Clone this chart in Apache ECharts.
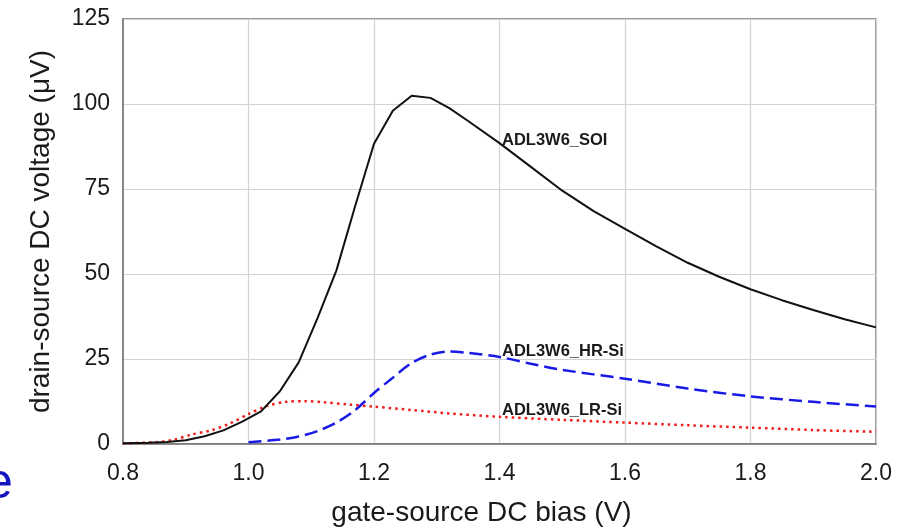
<!DOCTYPE html>
<html>
<head>
<meta charset="utf-8">
<script src="https://cdn.jsdelivr.net/npm/echarts@6/dist/echarts.min.js"></script>
<style>
  html, body { margin: 0; padding: 0; background: #fff; }
  #chart { width: 915px; height: 528px; }
</style>
</head>
<body>
<div id="chart"></div>
<script>
// gate-source bias (V) sample points for each curve
var soiX = [0.8, 0.84, 0.87, 0.9, 0.93, 0.96, 0.99, 1.02, 1.05, 1.08, 1.11, 1.14, 1.17, 1.2, 1.23, 1.26, 1.29, 1.32, 1.35, 1.4, 1.45, 1.5, 1.55, 1.6, 1.65, 1.7, 1.75, 1.8, 1.85, 1.9, 1.95, 2.0];
var soiY = [0.2, 0.4, 0.6, 1.1, 2.3, 4.0, 6.6, 9.6, 15.5, 24.0, 37.0, 51.0, 70.0, 88.3, 98.0, 102.4, 101.8, 98.8, 95.0, 88.5, 81.5, 74.5, 68.5, 63.3, 58.1, 53.3, 49.2, 45.5, 42.3, 39.4, 36.7, 34.3];

var hrX = [1.0, 1.05, 1.08, 1.11, 1.14, 1.17, 1.2, 1.23, 1.26, 1.29, 1.32, 1.35, 1.4, 1.45, 1.5, 1.6, 1.7, 1.8, 1.9, 2.0];
var hrY = [0.5, 1.3, 2.2, 3.8, 6.3, 10.0, 15.0, 19.5, 23.8, 26.3, 27.2, 26.8, 25.6, 23.6, 21.8, 19.2, 16.3, 14.0, 12.4, 11.0];

var lrX = [0.8, 0.85, 0.88, 0.91, 0.94, 0.97, 1.0, 1.03, 1.06, 1.09, 1.12, 1.16, 1.2, 1.26, 1.32, 1.4, 1.5, 1.6, 1.7, 1.8, 1.9, 2.0];
var lrY = [0.2, 0.5, 1.2, 2.8, 4.0, 6.0, 8.8, 11.2, 12.4, 12.6, 12.3, 11.6, 11.0, 10.0, 9.0, 8.0, 7.1, 6.3, 5.5, 4.8, 4.1, 3.6];

var seriesNames = ['ADL3W6_SOI', 'ADL3W6_HR-Si', 'ADL3W6_LR-Si'];
// label anchors in data units [x, y]
var labelAt = [[1.404, 89.4], [1.404, 27.1], [1.404, 10.0]];

var xTicks = { min: 0.8, max: 2.0, step: 0.2 };
var yTicks = { min: 0, max: 125, step: 25 };

var font = '"Liberation Sans", Arial, sans-serif';

function pairs(xs, ys) {
    var out = [];
    for (var i = 0; i < xs.length; i++) out.push([xs[i], ys[i]]);
    return out;
}

function curveLabel(i) {
    return {
        symbol: 'circle',
        symbolSize: 0,
        silent: true,
        label: {
            show: true,
            position: 'right',
            distance: 0,
            formatter: '{b}',
            color: '#1a1a1a',
            fontFamily: font,
            fontWeight: 'bold',
            fontSize: 16.5
        },
        data: [{ name: seriesNames[i], coord: labelAt[i] }]
    };
}

var chart = echarts.init(document.getElementById('chart'));

var option = {
    animation: false,
    backgroundColor: '#fff',
    grid: {
        left: 123, right: 39, top: 19, bottom: 84,
        outerBoundsMode: 'none',
        show: true,
        borderColor: '#777',
        borderWidth: 1.5
    },
    xAxis: {
        type: 'value',
        min: xTicks.min, max: xTicks.max, interval: xTicks.step,
        name: 'gate-source DC bias (V)',
        nameLocation: 'middle',
        nameGap: 55,
        nameTextStyle: { fontFamily: font, fontSize: 28, color: '#1a1a1a', padding: [0, 36, 0, 0] },
        axisLine: { lineStyle: { color: '#777', width: 1.5 } },
        axisTick: { show: false },
        axisLabel: {
            margin: 18,
            fontFamily: font, fontSize: 23, color: '#1a1a1a',
            formatter: function (v) { return v.toFixed(1); }
        },
        splitLine: { lineStyle: { color: '#d2d2d2', width: 1.2 } }
    },
    yAxis: {
        type: 'value',
        min: yTicks.min, max: yTicks.max, interval: yTicks.step,
        name: 'drain-source DC voltage (\u03bcV)',
        nameLocation: 'middle',
        nameGap: 68,
        nameTextStyle: { fontFamily: font, fontSize: 28, color: '#1a1a1a' },
        axisLine: { show: true, lineStyle: { color: '#777', width: 1.5 } },
        axisTick: { show: false },
        axisLabel: { margin: 13, fontFamily: font, fontSize: 23, color: '#1a1a1a' },
        splitLine: { lineStyle: { color: '#d2d2d2', width: 1.2 } }
    },
    series: [
        {
            name: seriesNames[0],
            type: 'line',
            data: pairs(soiX, soiY),
            showSymbol: false,
            lineStyle: { color: '#111', width: 2 },
            z: 3,
            markPoint: curveLabel(0)
        },
        {
            name: seriesNames[1],
            type: 'line',
            data: pairs(hrX, hrY),
            smooth: 0.3,
            showSymbol: false,
            lineStyle: { color: '#1a1ae6', width: 2.5, type: [13, 6] },
            z: 2,
            markPoint: curveLabel(1)
        },
        {
            name: seriesNames[2],
            type: 'line',
            data: pairs(lrX, lrY),
            smooth: 0.3,
            showSymbol: false,
            lineStyle: { color: '#f01c1c', width: 2.5, type: [2.5, 4] },
            z: 2,
            markPoint: curveLabel(2)
        }
    ],
    graphic: [
        {
            // clipped slide-title letter at the lower left of the source image
            type: 'text',
            left: -15,
            top: 459,
            style: { text: 'e', fontFamily: font, fontSize: 50, fill: '#1414c0' }
        }
    ]
};

chart.setOption(option);
</script>
</body>
</html>
